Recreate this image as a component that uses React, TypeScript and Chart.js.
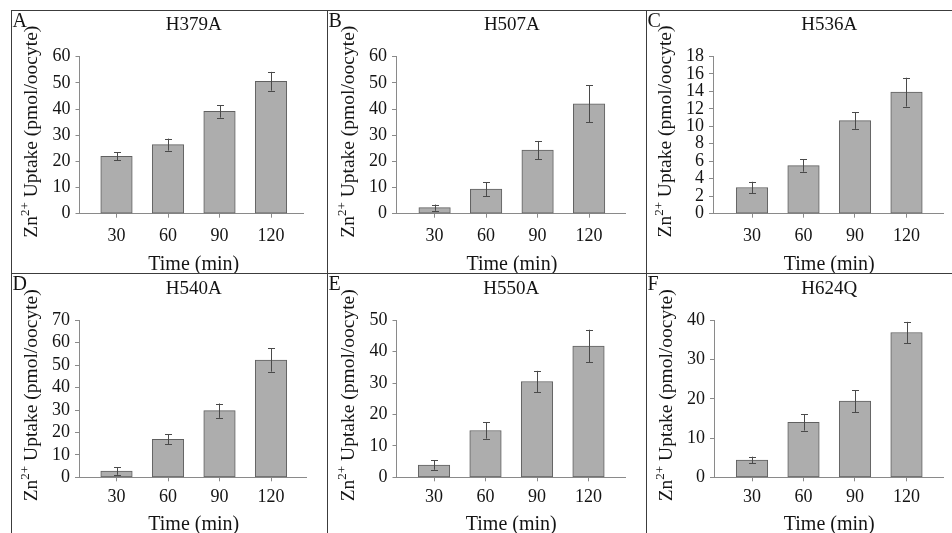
import React, { useEffect, useRef } from "react";
import { Chart, registerables } from "chart.js";

Chart.register(...registerables);

// ---------------- data ----------------
const timeCategories = [30, 60, 90, 120];
const panelLetters = ["A", "B", "C", "D", "E", "F"];
const panelTitles = ["H379A", "H507A", "H536A", "H540A", "H550A", "H624Q"];

const h379aMeans = [21.9, 26.4, 39.1, 50.6];
const h379aErrors = [1.5, 2.3, 2.4, 3.6];
const h507aMeans = [2.3, 9.4, 24.3, 42.0];
const h507aErrors = [1.2, 2.7, 3.5, 7.1];
const h536aMeans = [3.0, 5.5, 10.65, 13.9];
const h536aErrors = [0.65, 0.7, 0.95, 1.65];
const h540aMeans = [2.8, 16.9, 29.7, 52.3];
const h540aErrors = [1.7, 2.2, 3.2, 5.2];
const h550aMeans = [3.9, 14.9, 30.5, 41.8];
const h550aErrors = [1.5, 2.6, 3.4, 5.2];
const h624qMeans = [4.4, 14.0, 19.4, 36.9];
const h624qErrors = [0.85, 2.1, 2.8, 2.7];

const yAxisMax = [60, 60, 18, 70, 50, 40];
const yAxisStep = [10, 10, 2, 10, 10, 10];
const xAxisTitle = "Time (min)";
const yTitleMain = "Zn";
const yTitleSup = "2+";
const yTitleRest = " Uptake (pmol/oocyte)";

const panelMeans = [h379aMeans, h507aMeans, h536aMeans, h540aMeans, h550aMeans, h624qMeans];
const panelErrors = [h379aErrors, h507aErrors, h536aErrors, h540aErrors, h550aErrors, h624qErrors];

// ---------------- layout / style ----------------
const FONT = '"Liberation Serif", "Times New Roman", serif';
const AXIS_COLOR = "#8a8a8a";
const TEXT_COLOR = "#141414";
const BAR_FILL = "#adadad";
const BAR_EDGE = "#606060";
const ERR_COLOR = "#4a4a4a";
const BORDER_COLOR = "#3c3c3c";
const TICK_SIZE = 18;

const colBoxes = [
  { l: 12, r: 327 },
  { l: 328, r: 646 },
  { l: 647, r: 952 },
];
const rowBoxes = [
  { t: 11, b: 273, tickPad: 8, xTitleOff: 51 },
  { t: 274, b: 533, tickPad: 5, xTitleOff: 47 },
];
const axisXs = [79.5, 396, 713, 79, 396.5, 714];
const topPxs = [56.7, 56.7, 56.3, 320.3, 320.3, 320.3];
const zeroPxs = [213.7, 213.7, 213.7, 477.3, 477.3, 477.3];
const firstCenters = [116.5, 434.6, 752, 116.5, 434, 752];
const rightPxs = [303, 625, 943, 306, 625, 943];
const PX_PER_UNIT = 51.5 / 30;
const Y_AXIS_W = 45;
const X_AXIS_H = 30;

function panelGeom(i: number) {
  const c = colBoxes[i % 3];
  const r = rowBoxes[Math.floor(i / 3)];
  const xMin = 30 - (firstCenters[i] - axisXs[i]) / PX_PER_UNIT;
  const xMax = xMin + (rightPxs[i] - axisXs[i]) / PX_PER_UNIT;
  return {
    left: c.l,
    top: r.t,
    width: c.r - c.l,
    height: r.b - r.t,
    xMin,
    xMax,
    tickPad: r.tickPad,
    xTitleOff: r.xTitleOff,
    padding: {
      left: axisXs[i] - c.l - Y_AXIS_W,
      top: topPxs[i] - r.t,
      right: c.r - rightPxs[i],
      bottom: r.b - zeroPxs[i] - X_AXIS_H,
    },
  };
}

function makeConfig(i: number): any {
  const g = panelGeom(i);
  const means = panelMeans[i];
  const errs = panelErrors[i];
  const yTickValues: number[] = [];
  for (let v = 0; v <= yAxisMax[i] + 1e-9; v += yAxisStep[i]) yTickValues.push(v);

  const decor = {
    id: "decor" + i,
    afterDatasetsDraw(chart: any) {
      const ctx = chart.ctx;
      const xs = chart.scales.x;
      const ys = chart.scales.y;
      ctx.save();
      ctx.strokeStyle = ERR_COLOR;
      ctx.lineWidth = 1;
      timeCategories.forEach((t, k) => {
        const x = Math.round(xs.getPixelForValue(t)) + 0.5;
        const y1 = ys.getPixelForValue(means[k] + errs[k]);
        const y2 = ys.getPixelForValue(Math.max(0, means[k] - errs[k]));
        ctx.beginPath();
        ctx.moveTo(x, y1);
        ctx.lineTo(x, y2);
        ctx.moveTo(x - 3.5, Math.round(y1) + 0.5);
        ctx.lineTo(x + 3.5, Math.round(y1) + 0.5);
        ctx.moveTo(x - 3.5, Math.round(y2) + 0.5);
        ctx.lineTo(x + 3.5, Math.round(y2) + 0.5);
        ctx.stroke();
      });
      ctx.restore();
    },
    afterDraw(chart: any) {
      const ctx = chart.ctx;
      const { top, bottom } = chart.chartArea;
      const xs = chart.scales.x;
      const midX = xs.getPixelForValue(75);
      ctx.save();
      ctx.fillStyle = TEXT_COLOR;
      // panel letter
      ctx.font = `20px ${FONT}`;
      ctx.textAlign = "left";
      ctx.textBaseline = "alphabetic";
      ctx.fillText(panelLetters[i], 0.5, 15.5);
      // panel title
      ctx.font = `19px ${FONT}`;
      ctx.textAlign = "center";
      ctx.textBaseline = "middle";
      ctx.fillText(panelTitles[i], midX, top - 31.5);
      // x title
      ctx.font = `20px ${FONT}`;
      ctx.fillText(xAxisTitle, midX, bottom + g.xTitleOff);
      // y title (rotated, with superscript)
      const cx = chart.chartArea.left - 42.5;
      const cy = (top + bottom) / 2 - 3.5;
      ctx.translate(cx, cy);
      ctx.rotate(-Math.PI / 2);
      ctx.textAlign = "left";
      ctx.textBaseline = "alphabetic";
      const mainFont = `19.5px ${FONT}`;
      const supFont = `13px ${FONT}`;
      ctx.font = mainFont;
      const w1 = ctx.measureText(yTitleMain).width;
      const w3 = ctx.measureText(yTitleRest).width;
      ctx.font = supFont;
      const w2 = ctx.measureText(yTitleSup).width;
      let x = -(w1 + w2 + w3) / 2;
      ctx.font = mainFont;
      ctx.fillText(yTitleMain, x, 0);
      x += w1;
      ctx.font = supFont;
      ctx.fillText(yTitleSup, x, -8);
      x += w2;
      ctx.font = mainFont;
      ctx.fillText(yTitleRest, x, 0);
      ctx.restore();
    },
  };

  return {
    type: "bar",
    data: {
      datasets: [
        {
          data: timeCategories.map((t, k) => ({ x: t, y: means[k] })),
          backgroundColor: BAR_FILL,
          borderColor: BAR_EDGE,
          borderWidth: 1,
          borderSkipped: false,
          barThickness: 31.5,
        },
      ],
    },
    options: {
      animation: false,
      responsive: false,
      devicePixelRatio: 1,
      events: [],
      layout: { padding: g.padding },
      plugins: {
        legend: { display: false },
        tooltip: { enabled: false },
        title: { display: false },
      },
      scales: {
        x: {
          type: "linear",
          min: g.xMin,
          max: g.xMax,
          offset: false,
          afterBuildTicks: (s: any) => {
            s.ticks = timeCategories.map((v) => ({ value: v }));
          },
          afterFit: (s: any) => {
            s.height = X_AXIS_H;
          },
          grid: {
            display: true,
            drawOnChartArea: false,
            drawTicks: true,
            tickLength: 4,
            color: AXIS_COLOR,
            offset: false,
          },
          border: { display: true, color: AXIS_COLOR, width: 1 },
          ticks: {
            autoSkip: false,
            maxRotation: 0,
            padding: g.tickPad,
            color: TEXT_COLOR,
            font: { family: FONT, size: TICK_SIZE },
            callback: (v: any) => String(v),
          },
        },
        y: {
          min: 0,
          max: yAxisMax[i],
          afterBuildTicks: (s: any) => {
            s.ticks = yTickValues.map((v) => ({ value: v }));
          },
          afterFit: (s: any) => {
            s.width = Y_AXIS_W;
          },
          grid: {
            display: true,
            drawOnChartArea: false,
            drawTicks: true,
            tickLength: 4,
            color: AXIS_COLOR,
          },
          border: { display: true, color: AXIS_COLOR, width: 1 },
          ticks: {
            autoSkip: false,
            stepSize: yAxisStep[i],
            padding: 5,
            color: TEXT_COLOR,
            font: { family: FONT, size: TICK_SIZE },
            callback: (v: any) => String(v),
          },
        },
      },
    },
    plugins: [decor],
  };
}

function Panel({ idx }: { idx: number }) {
  const ref = useRef<HTMLCanvasElement>(null);
  const g = panelGeom(idx);
  useEffect(() => {
    const chart = new Chart(ref.current as HTMLCanvasElement, makeConfig(idx));
    return () => chart.destroy();
  }, [idx]);
  return (
    <canvas
      ref={ref}
      width={g.width}
      height={g.height}
      style={{ position: "absolute", left: g.left, top: g.top, width: g.width, height: g.height }}
    />
  );
}

const borderLines = [
  { left: 11, top: 10, width: 941, height: 1 },
  { left: 11, top: 10, width: 1, height: 523 },
  { left: 327, top: 10, width: 1, height: 523 },
  { left: 646, top: 10, width: 1, height: 523 },
  { left: 11, top: 273, width: 941, height: 1 },
];

export default function App() {
  return (
    <div
      style={{
        position: "absolute",
        left: 0,
        top: 0,
        width: 952,
        height: 533,
        background: "#ffffff",
        overflow: "hidden",
      }}
    >
      {panelTitles.map((_, i) => (
        <Panel key={i} idx={i} />
      ))}
      {borderLines.map((b, i) => (
        <div
          key={"b" + i}
          style={{ position: "absolute", ...b, background: BORDER_COLOR }}
        />
      ))}
    </div>
  );
}
